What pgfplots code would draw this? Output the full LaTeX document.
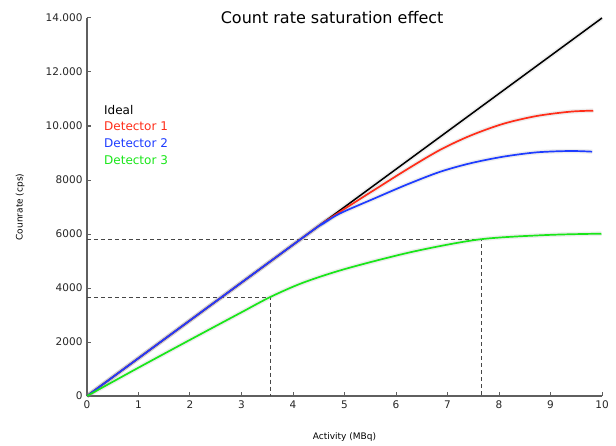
\documentclass[border=0pt]{standalone}
\usepackage{pgfplots}
\pgfplotsset{compat=1.18}
\usepackage{pgfplotstable}
\usepackage{fontspec}
\setmainfont{DejaVu Sans}

\definecolor{cRed}{RGB}{255,45,25}
\definecolor{cBlue}{RGB}{30,60,255}
\definecolor{cGreen}{RGB}{25,230,25}
\definecolor{axgray}{RGB}{95,95,95}
\definecolor{dashgray}{RGB}{70,70,70}

% activity (MBq)  count rate (cps)
\pgfplotstableread{
x y
0 0
10 14000
}\ideal
\pgfplotstableread{
x y
0 0
4.3 6020
4.6 6430
4.91 6820
5.56 7610
6.21 8390
6.85 9110
7.44 9640
8.08 10080
8.73 10370
9.38 10530
9.83 10568
}\detone
\pgfplotstableread{
x y
0 0
4.2 5880
4.6 6400
4.91 6760
5.56 7300
6.21 7830
6.85 8300
7.44 8617
8.08 8863
8.73 9024
9.38 9074
9.81 9049
}\dettwo
\pgfplotstableread{
x y
0 0
1 1050
2 2080
3 3100
3.56 3667
4.2 4200
5.04 4720
6.34 5350
7.63 5802
8.93 5963
9.99 6012
}\detthree

\begin{document}
\begin{tikzpicture}
\useasboundingbox (-87pt,-49pt) rectangle (529pt,396pt);
\begin{axis}[
  scale only axis,
  width=515pt, height=378pt,
  xmin=0, xmax=10, ymin=0, ymax=14000,
  scaled y ticks=false,
  axis lines=left,
  axis line style={axgray, line width=1.1pt, -},
  every tick/.style={axgray, line width=1pt},
  tick align=inside,
  major tick length=4pt,
  xtick={0,1,...,10},
  xticklabels={0,1,2,3,4,5,6,7,8,9,10},
  ytick={0,2000,4000,6000,8000,10000,12000,14000},
  yticklabels={0,2000,4000,6000,8000,10.000,12.000,14.000},
  ticklabel style={font=\fontsize{10.5}{12}\selectfont, text=black!85},
  xticklabel style={yshift=-1pt},
  yticklabel style={xshift=-1pt},
  xlabel={Activity (MBq)},
  ylabel={Counrate (cps)},
  label style={font=\fontsize{9}{11}\selectfont},
  xlabel style={at={(axis description cs:0.5,-0.108)}, anchor=center},
  ylabel style={at={(axis description cs:-0.13,0.5)}, anchor=center, rotate=0},
  clip=false,
  shadow/.style={no marks, smooth, gray, opacity=0.14, line width=4.5pt},
]
% dashed guides
\addplot[no marks, dashgray, line width=0.9pt, dash pattern=on 4pt off 3pt] coordinates {(0,5800) (7.65,5800) (7.65,0)};
\addplot[no marks, dashgray, line width=0.9pt, dash pattern=on 4pt off 3pt] coordinates {(0,3667) (3.56,3667) (3.56,0)};

% soft shadows
\addplot[shadow] table {\ideal};
\addplot[shadow] table {\detone};
\addplot[shadow] table {\dettwo};
\addplot[shadow] table {\detthree};

% curves
\addplot[no marks, black, line width=1.5pt] table {\ideal};
\addplot[no marks, smooth, cRed, line width=1.7pt] table {\detone};
\addplot[no marks, smooth, cBlue, line width=1.7pt] table {\dettwo};
\addplot[no marks, smooth, cGreen, line width=1.7pt] table {\detthree};

% title and legend
\node[font=\fontsize{16}{19}\selectfont, anchor=center] at (rel axis cs:0.476,1) {Count rate saturation effect};
\node[font=\fontsize{12}{14}\selectfont, anchor=west, inner sep=0pt] at (axis cs:0.33,10593) {Ideal};
\node[font=\fontsize{12}{14}\selectfont, anchor=west, inner sep=0pt, text=cRed] at (axis cs:0.33,9974) {Detector 1};
\node[font=\fontsize{12}{14}\selectfont, anchor=west, inner sep=0pt, text=cBlue] at (axis cs:0.33,9359) {Detector 2};
\node[font=\fontsize{12}{14}\selectfont, anchor=west, inner sep=0pt, text=cGreen] at (axis cs:0.33,8741) {Detector 3};
\end{axis}
\end{tikzpicture}
\end{document}
